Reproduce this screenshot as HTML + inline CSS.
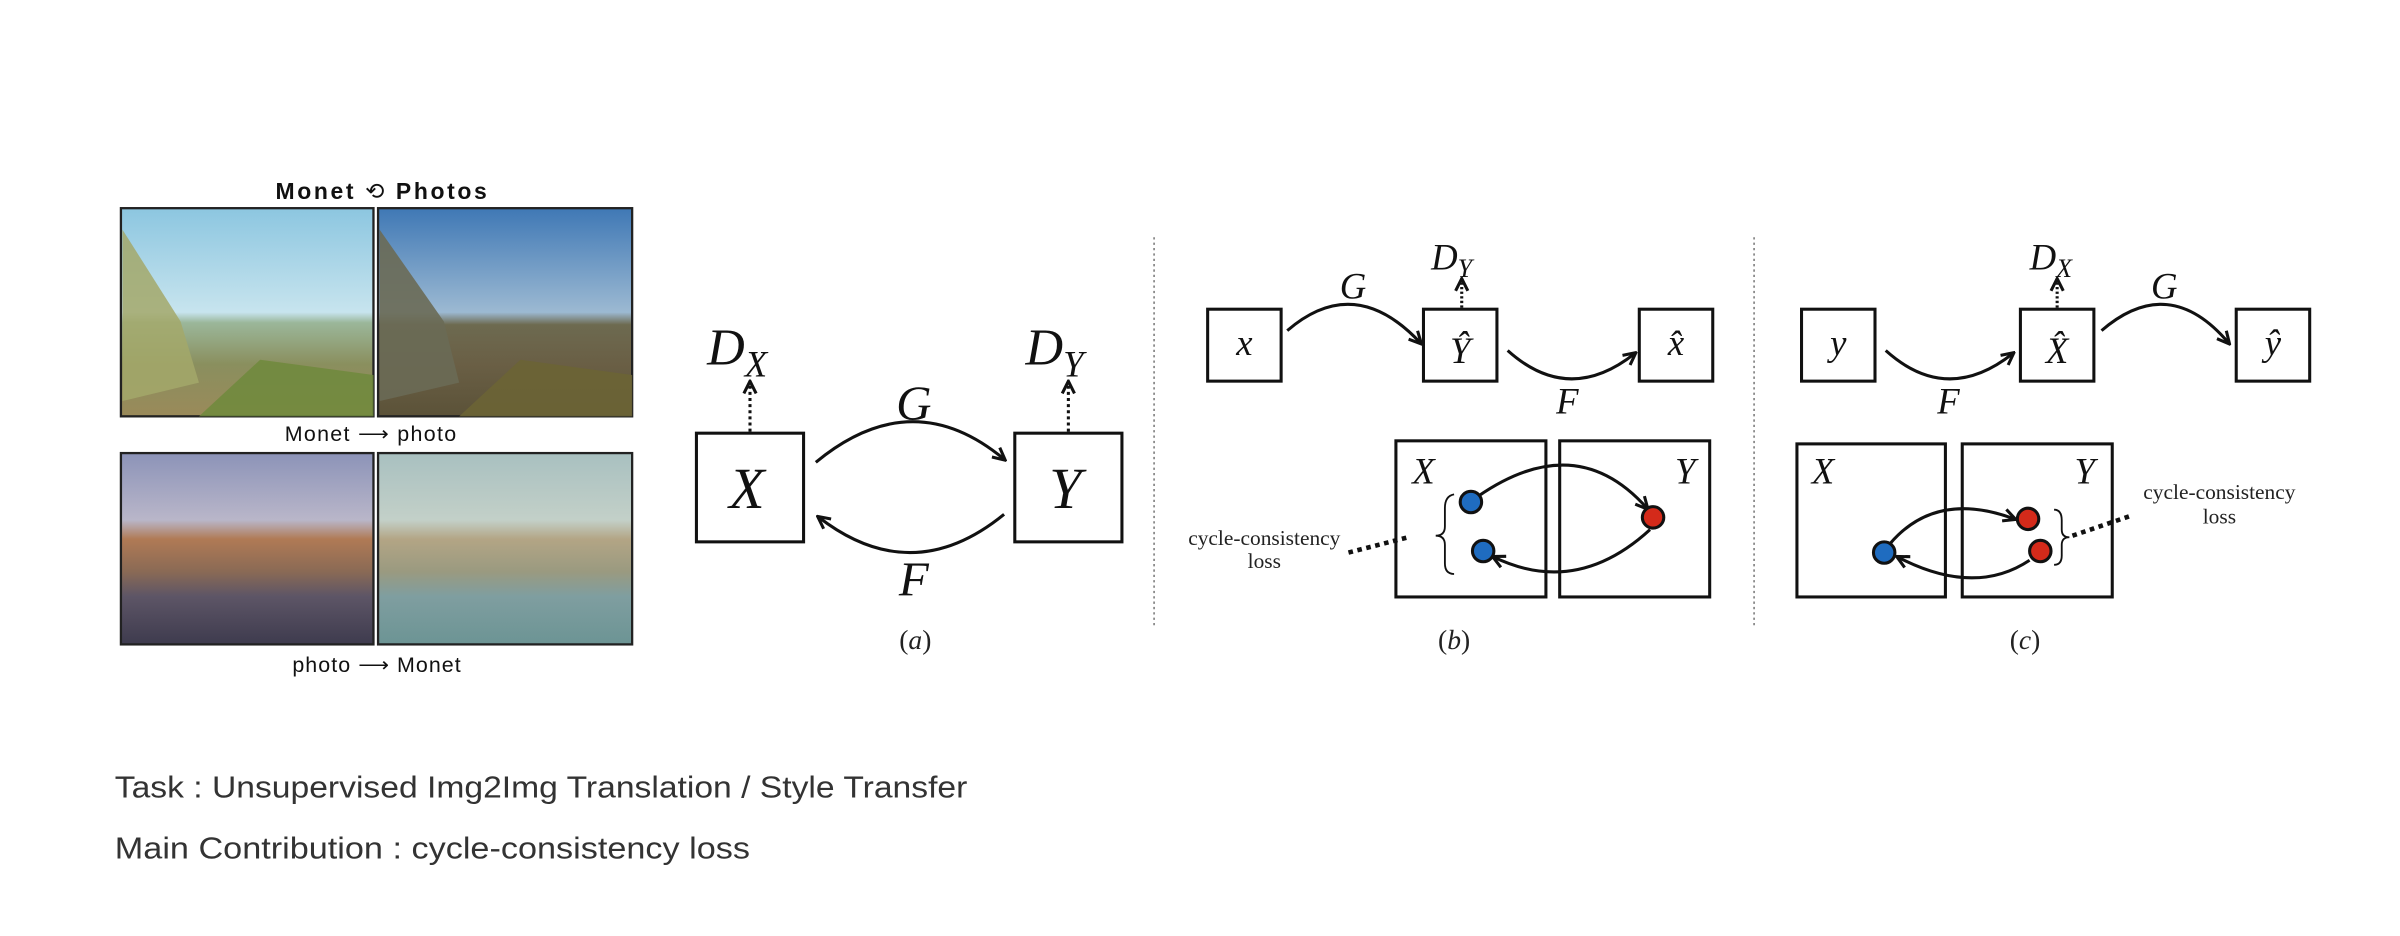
<!DOCTYPE html>
<html><head><meta charset="utf-8"><style>
html,body{margin:0;padding:0;background:#fff;}
svg{display:block;}
.m{font-family:"Liberation Serif",serif;font-style:italic;fill:#111;}
.s{font-family:"Liberation Serif",serif;fill:#222;}
.b{font-family:"Liberation Sans",sans-serif;fill:#111;}
.t{font-family:"Liberation Sans","Noto Sans CJK SC",sans-serif;fill:#333;}
</style></head><body>
<svg width="2400" height="936" viewBox="0 0 1568 611.5" xmlns="http://www.w3.org/2000/svg">
<defs>
<marker id="ah" viewBox="0 0 10 10" refX="8" refY="5" markerWidth="5" markerHeight="5" orient="auto-start-reverse"><path d="M1,1 L9,5 L1,9" fill="none" stroke="#111" stroke-width="2"/></marker>
<linearGradient id="sky1" x1="0" y1="0" x2="0" y2="1"><stop offset="0" stop-color="#8cc6e0"/><stop offset="0.5" stop-color="#c7e4ee"/><stop offset="0.55" stop-color="#9bb79a"/><stop offset="0.75" stop-color="#8a8f5e"/><stop offset="1" stop-color="#9a8a5a"/></linearGradient>
<linearGradient id="sky2" x1="0" y1="0" x2="0" y2="1"><stop offset="0" stop-color="#3f78b5"/><stop offset="0.5" stop-color="#9cb9d2"/><stop offset="0.56" stop-color="#6d6a50"/><stop offset="0.75" stop-color="#6a5f45"/><stop offset="1" stop-color="#5b5238"/></linearGradient>
<linearGradient id="port1" x1="0" y1="0" x2="0" y2="1"><stop offset="0" stop-color="#8c93b8"/><stop offset="0.35" stop-color="#b9b6c9"/><stop offset="0.45" stop-color="#b07a55"/><stop offset="0.62" stop-color="#8a6a55"/><stop offset="0.75" stop-color="#5d5566"/><stop offset="1" stop-color="#3e3b4e"/></linearGradient>
<linearGradient id="port2" x1="0" y1="0" x2="0" y2="1"><stop offset="0" stop-color="#a8c0c0"/><stop offset="0.35" stop-color="#c3d0c8"/><stop offset="0.45" stop-color="#b3a585"/><stop offset="0.62" stop-color="#9a9a80"/><stop offset="0.75" stop-color="#7f9ea0"/><stop offset="1" stop-color="#6c9494"/></linearGradient>
</defs>

<g>
<text class="b" x="249" y="130" font-size="15" font-weight="bold" text-anchor="middle" textLength="138">Monet <tspan font-weight="normal">⟲</tspan> Photos</text>
<rect x="79" y="136" width="165" height="136" fill="url(#sky1)" stroke="#222" stroke-width="1.5"/>
<polygon points="80,150 118,210 130,250 80,262" fill="#a3a86a" opacity="0.85"/>
<polygon points="130,272 170,235 244,245 244,272" fill="#6e8a3c" opacity="0.85"/>
<rect x="247" y="136" width="166" height="136" fill="url(#sky2)" stroke="#222" stroke-width="1.5"/>
<polygon points="248,150 290,210 300,250 248,262" fill="#6a6a55" opacity="0.9"/>
<polygon points="300,272 340,235 413,245 413,272" fill="#6b6435" opacity="0.9"/>
<text class="b" x="242" y="288" font-size="14" text-anchor="middle" textLength="112">Monet ⟶ photo</text>
<rect x="79" y="296" width="165" height="125" fill="url(#port1)" stroke="#222" stroke-width="1.5"/>
<rect x="247" y="296" width="166" height="125" fill="url(#port2)" stroke="#222" stroke-width="1.5"/>
<text class="b" x="246" y="439" font-size="14" text-anchor="middle" textLength="110">photo ⟶ Monet</text>
</g>

<g stroke-width="2">
<rect x="455" y="283" width="70" height="71" fill="none" stroke="#111"/>
<rect x="663" y="283" width="70" height="71" fill="none" stroke="#111"/>
<text class="m" x="488" y="332" font-size="38" text-anchor="middle">X</text>
<text class="m" x="696" y="332" font-size="38" text-anchor="middle">Y</text>
<text class="m" x="462" y="238" font-size="34">D<tspan font-size="24" dy="8">X</tspan></text>
<text class="m" x="670" y="238" font-size="34">D<tspan font-size="24" dy="8">Y</tspan></text>
<line x1="490" y1="282" x2="490" y2="250" stroke="#111" stroke-dasharray="2,2" marker-end="url(#ah)"/>
<line x1="698" y1="282" x2="698" y2="250" stroke="#111" stroke-dasharray="2,2" marker-end="url(#ah)"/>
<path d="M533,302 Q596,250 656,300" fill="none" stroke="#111" marker-end="url(#ah)"/>
<path d="M656,336 Q596,385 535,338" fill="none" stroke="#111" marker-end="url(#ah)"/>
<text class="m" x="597" y="274" font-size="32" text-anchor="middle">G</text>
<text class="m" x="597" y="389" font-size="32" text-anchor="middle">F</text>
<text class="s" x="598" y="424" font-size="18" text-anchor="middle">(<tspan font-style="italic">a</tspan>)</text>
</g>

<line x1="754" y1="155" x2="754" y2="410" stroke="#777" stroke-width="1" stroke-dasharray="1.5,2"/>
<line x1="1146" y1="155" x2="1146" y2="410" stroke="#777" stroke-width="1" stroke-dasharray="1.5,2"/>

<g stroke-width="2">
<rect x="789" y="202" width="48" height="47" fill="none" stroke="#111"/>
<rect x="930" y="202" width="48" height="47" fill="none" stroke="#111"/>
<rect x="1071" y="202" width="48" height="47" fill="none" stroke="#111"/>
<text class="m" x="813" y="232" font-size="24" text-anchor="middle">x</text>
<text class="m" x="954" y="237" font-size="24" text-anchor="middle">Ŷ</text>
<text class="m" x="1095" y="232" font-size="24" text-anchor="middle">x̂</text>
<text class="m" x="935" y="176" font-size="24">D<tspan font-size="17" dy="5">Y</tspan></text>
<line x1="955" y1="201" x2="955" y2="183" stroke="#111" stroke-dasharray="1.5,1.5" marker-end="url(#ah)"/>
<path d="M841,216 Q885,178 928,224" fill="none" stroke="#111" marker-end="url(#ah)"/>
<path d="M985,229 Q1025,265 1068,231" fill="none" stroke="#111" marker-end="url(#ah)"/>
<text class="m" x="884" y="195" font-size="24" text-anchor="middle">G</text>
<text class="m" x="1024" y="270" font-size="24" text-anchor="middle">F</text>
<rect x="912" y="288" width="98" height="102" fill="none" stroke="#111"/>
<rect x="1019" y="288" width="98" height="102" fill="none" stroke="#111"/>
<text class="m" x="930" y="316" font-size="24" text-anchor="middle">X</text>
<text class="m" x="1101" y="316" font-size="24" text-anchor="middle">Y</text>
<path d="M966,324 Q1030,280 1076,332" fill="none" stroke="#111" marker-end="url(#ah)"/>
<path d="M1078,346 Q1030,390 976,364" fill="none" stroke="#111" marker-end="url(#ah)"/>
<circle cx="961" cy="328" r="7" fill="#1f6cc0" stroke="#111" stroke-width="2"/>
<circle cx="969" cy="360" r="7" fill="#1f6cc0" stroke="#111" stroke-width="2"/>
<circle cx="1080" cy="338" r="7" fill="#d42a1a" stroke="#111" stroke-width="2"/>
<path d="M950,323 Q944,324 944,332 L944,344 Q944,350 938,350 Q944,350 944,356 L944,368 Q944,375 950,375" fill="none" stroke="#111" stroke-width="1.2"/>
<line x1="881" y1="361" x2="920" y2="351" stroke="#111" stroke-width="3" stroke-dasharray="3,3"/>
<text class="s" x="826" y="356" font-size="14" text-anchor="middle">cycle-consistency</text>
<text class="s" x="826" y="371" font-size="14" text-anchor="middle">loss</text>
<text class="s" x="950" y="424" font-size="18" text-anchor="middle">(<tspan font-style="italic">b</tspan>)</text>
</g>

<g stroke-width="2">
<rect x="1177" y="202" width="48" height="47" fill="none" stroke="#111"/>
<rect x="1320" y="202" width="48" height="47" fill="none" stroke="#111"/>
<rect x="1461" y="202" width="48" height="47" fill="none" stroke="#111"/>
<text class="m" x="1201" y="232" font-size="24" text-anchor="middle">y</text>
<text class="m" x="1344" y="237" font-size="24" text-anchor="middle">X̂</text>
<text class="m" x="1485" y="232" font-size="24" text-anchor="middle">ŷ</text>
<text class="m" x="1326" y="176" font-size="24">D<tspan font-size="17" dy="5">X</tspan></text>
<line x1="1344" y1="201" x2="1344" y2="183" stroke="#111" stroke-dasharray="1.5,1.5" marker-end="url(#ah)"/>
<path d="M1232,229 Q1272,265 1315,231" fill="none" stroke="#111" marker-end="url(#ah)"/>
<path d="M1373,216 Q1417,178 1456,224" fill="none" stroke="#111" marker-end="url(#ah)"/>
<text class="m" x="1273" y="270" font-size="24" text-anchor="middle">F</text>
<text class="m" x="1414" y="195" font-size="24" text-anchor="middle">G</text>
<rect x="1174" y="290" width="97" height="100" fill="none" stroke="#111"/>
<rect x="1282" y="290" width="98" height="100" fill="none" stroke="#111"/>
<text class="m" x="1191" y="316" font-size="24" text-anchor="middle">X</text>
<text class="m" x="1362" y="316" font-size="24" text-anchor="middle">Y</text>
<path d="M1235,355 Q1265,320 1316,339" fill="none" stroke="#111" marker-end="url(#ah)"/>
<path d="M1326,366 Q1290,390 1240,364" fill="none" stroke="#111" marker-end="url(#ah)"/>
<circle cx="1231" cy="361" r="7" fill="#1f6cc0" stroke="#111" stroke-width="2"/>
<circle cx="1325" cy="339" r="7" fill="#d42a1a" stroke="#111" stroke-width="2"/>
<circle cx="1333" cy="360" r="7" fill="#d42a1a" stroke="#111" stroke-width="2"/>
<path d="M1342,333 Q1347,333 1347,340 L1347,346 Q1347,351 1352,351 Q1347,351 1347,356 L1347,363 Q1347,369 1342,369" fill="none" stroke="#111" stroke-width="1.2"/>
<line x1="1354" y1="350" x2="1392" y2="337" stroke="#111" stroke-width="3" stroke-dasharray="3,3"/>
<text class="s" x="1450" y="326" font-size="14" text-anchor="middle">cycle-consistency</text>
<text class="s" x="1450" y="342" font-size="14" text-anchor="middle">loss</text>
<text class="s" x="1323" y="424" font-size="18" text-anchor="middle">(<tspan font-style="italic">c</tspan>)</text>
</g>

<text class="t" x="75" y="521" font-size="20" textLength="557" lengthAdjust="spacingAndGlyphs">Task : Unsupervised Img2Img Translation / Style Transfer</text>
<text class="t" x="75" y="561" font-size="20" textLength="415" lengthAdjust="spacingAndGlyphs">Main Contribution : cycle-consistency loss</text>
</svg>
</body></html>
